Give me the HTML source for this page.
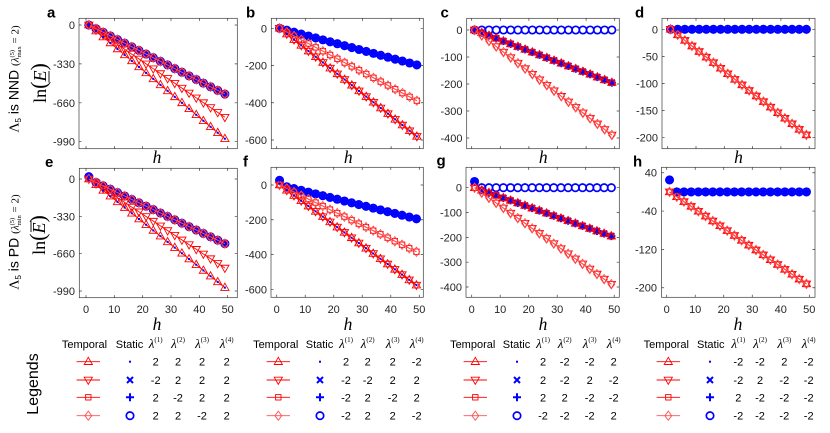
<!DOCTYPE html>
<html><head><meta charset="utf-8">
<style>
html,body{margin:0;padding:0;background:#fff;}
svg{display:block;}
text{font-family:"Liberation Sans",Arial,sans-serif;}
.t{font-size:11px;fill:#262626;}
.pl{font-size:15px;font-weight:bold;fill:#000;}
.serif{font-family:"Liberation Serif",serif;}
.hl{font-family:"Liberation Serif",serif;font-style:italic;font-size:17.5px;fill:#000;}
.lg{font-size:11px;fill:#000;}
</style></head><body>
<svg width="830" height="433" viewBox="0 0 830 433" xmlns="http://www.w3.org/2000/svg">
<rect x="0" y="0" width="830" height="433" fill="#fff"/>
<g id="plots"></g>

<!-- panel letters -->
<text class="pl" x="47" y="17.5">a</text>
<text class="pl" x="246" y="17.5">b</text>
<text class="pl" x="440.5" y="17.5">c</text>
<text class="pl" x="635" y="17.5">d</text>
<text class="pl" x="45" y="167">e</text>
<text class="pl" x="243" y="166.5">f</text>
<text class="pl" x="436.5" y="165.5">g</text>
<text class="pl" x="633" y="166.5">h</text>

<!-- y tick labels -->
<g class="t" text-anchor="end">
<text x="75" y="29">0</text><text x="75" y="67.9">-330</text><text x="75" y="106.8">-660</text><text x="75" y="145.7">-990</text>
<text x="267" y="32.3">0</text><text x="267" y="69.5">-200</text><text x="267" y="106.8">-400</text><text x="267" y="144">-600</text>
<text x="462.5" y="34">0</text><text x="462.5" y="61">-100</text><text x="462.5" y="88">-200</text><text x="462.5" y="115">-300</text><text x="462.5" y="142">-400</text>
<text x="658" y="33.3">0</text><text x="658" y="60.4">-50</text><text x="658" y="87.5">-100</text><text x="658" y="114.6">-150</text><text x="658" y="141.7">-200</text>
<text x="75" y="183">0</text><text x="75" y="220.3">-330</text><text x="75" y="257.7">-660</text><text x="75" y="295">-990</text>
<text x="267" y="189">0</text><text x="267" y="223.8">-200</text><text x="267" y="258.5">-400</text><text x="267" y="293.3">-600</text>
<text x="462" y="191.7">0</text><text x="462" y="216.5">-100</text><text x="462" y="241.3">-200</text><text x="462" y="266.2">-300</text><text x="462" y="291">-400</text>
<text x="657" y="176.7">40</text><text x="657" y="215">-40</text><text x="657" y="253.3">-120</text><text x="657" y="291.7">-200</text>
</g>

<!-- x tick labels row 2 -->
<g class="t" text-anchor="middle">
<text x="86" y="313">0</text><text x="114.3" y="313">10</text><text x="142.7" y="313">20</text><text x="171" y="313">30</text><text x="199.4" y="313">40</text><text x="227.7" y="313">50</text>
<text x="276.7" y="313">0</text><text x="305.2" y="313">10</text><text x="333.7" y="313">20</text><text x="362.3" y="313">30</text><text x="390.8" y="313">40</text><text x="419.3" y="313">50</text>
<text x="471.7" y="313">0</text><text x="500.2" y="313">10</text><text x="528.7" y="313">20</text><text x="557.2" y="313">30</text><text x="585.7" y="313">40</text><text x="614.2" y="313">50</text>
<text x="666.7" y="313">0</text><text x="695.2" y="313">10</text><text x="723.7" y="313">20</text><text x="752.3" y="313">30</text><text x="780.8" y="313">40</text><text x="809.3" y="313">50</text>
</g>

<!-- h axis labels -->
<g text-anchor="middle">
<text class="hl" x="157" y="163">h</text>
<text class="hl" x="348.2" y="163">h</text>
<text class="hl" x="543.2" y="163">h</text>
<text class="hl" x="738.5" y="163">h</text>
<text class="hl" x="157" y="330">h</text>
<text class="hl" x="348" y="330">h</text>
<text class="hl" x="543" y="330">h</text>
<text class="hl" x="738" y="330">h</text>
</g>

<!-- y axis labels row 1 -->
<text transform="translate(18.5,79) rotate(-90)" text-anchor="middle" font-size="14" fill="#000"><tspan class="serif">Λ</tspan><tspan font-size="8" dy="2.5">5</tspan><tspan dy="-2.5"> is NND </tspan><tspan class="serif" font-size="11">(</tspan><tspan class="serif" font-style="italic" font-size="11">λ</tspan><tspan class="serif" font-size="6.5" dy="-4.5">(5)</tspan><tspan class="serif" font-size="6.5" dx="-7.5" dy="7">max</tspan><tspan class="serif" font-size="11" dy="-2.5"> = 2)</tspan></text>
<g transform="translate(46,83) rotate(-90)">
<text x="0" y="0" text-anchor="middle" class="serif" font-size="18" fill="#000">ln<tspan font-size="22">(</tspan><tspan font-style="italic">E</tspan><tspan font-size="22">)</tspan></text>
<line x1="0.5" y1="3" x2="12" y2="3" stroke="#000" stroke-width="0.9"/>
</g>

<!-- y axis labels row 2 -->
<text transform="translate(18.5,242) rotate(-90)" text-anchor="middle" font-size="14" fill="#000"><tspan class="serif">Λ</tspan><tspan font-size="8" dy="2.5">5</tspan><tspan dy="-2.5"> is PD </tspan><tspan class="serif" font-size="11">(</tspan><tspan class="serif" font-style="italic" font-size="11">λ</tspan><tspan class="serif" font-size="6.5" dy="-4.5">(5)</tspan><tspan class="serif" font-size="6.5" dx="-7.5" dy="7">min</tspan><tspan class="serif" font-size="11" dy="-2.5"> = 2)</tspan></text>
<g transform="translate(45,235) rotate(-90)">
<text x="0" y="0" text-anchor="middle" class="serif" font-size="18" fill="#000">ln<tspan font-size="22">(</tspan><tspan font-style="italic">E</tspan><tspan font-size="22">)</tspan></text>
<line x1="3" y1="-14" x2="14" y2="-14" stroke="#000" stroke-width="0.9"/>
</g>

<!-- Legends label -->
<text transform="translate(38,384) rotate(-90)" text-anchor="middle" font-size="16" fill="#000">Legends</text>

<!-- legend headers -->
<g class="lg" text-anchor="middle">
<text x="84.5" y="348">Temporal</text><text x="129.5" y="348">Static</text>
<text x="275.7" y="348">Temporal</text><text x="319.5" y="348">Static</text>
<text x="472.7" y="348">Temporal</text><text x="516.5" y="348">Static</text>
<text x="666.3" y="348">Temporal</text><text x="710.8" y="348">Static</text>
</g>
<g text-anchor="middle" fill="#000">
<text x="155.7" y="348"><tspan class="serif" font-style="italic" font-size="13">λ</tspan><tspan class="serif" font-size="7" dy="-6">(1)</tspan></text>
<text x="178" y="348"><tspan class="serif" font-style="italic" font-size="13">λ</tspan><tspan class="serif" font-size="7" dy="-6">(2)</tspan></text>
<text x="202" y="348"><tspan class="serif" font-style="italic" font-size="13">λ</tspan><tspan class="serif" font-size="7" dy="-6">(3)</tspan></text>
<text x="226.7" y="348"><tspan class="serif" font-style="italic" font-size="13">λ</tspan><tspan class="serif" font-size="7" dy="-6">(4)</tspan></text>
<text x="346" y="348"><tspan class="serif" font-style="italic" font-size="13">λ</tspan><tspan class="serif" font-size="7" dy="-6">(1)</tspan></text>
<text x="367.7" y="348"><tspan class="serif" font-style="italic" font-size="13">λ</tspan><tspan class="serif" font-size="7" dy="-6">(2)</tspan></text>
<text x="392.7" y="348"><tspan class="serif" font-style="italic" font-size="13">λ</tspan><tspan class="serif" font-size="7" dy="-6">(3)</tspan></text>
<text x="416.7" y="348"><tspan class="serif" font-style="italic" font-size="13">λ</tspan><tspan class="serif" font-size="7" dy="-6">(4)</tspan></text>
<text x="543" y="348"><tspan class="serif" font-style="italic" font-size="13">λ</tspan><tspan class="serif" font-size="7" dy="-6">(1)</tspan></text>
<text x="564.7" y="348"><tspan class="serif" font-style="italic" font-size="13">λ</tspan><tspan class="serif" font-size="7" dy="-6">(2)</tspan></text>
<text x="589.7" y="348"><tspan class="serif" font-style="italic" font-size="13">λ</tspan><tspan class="serif" font-size="7" dy="-6">(3)</tspan></text>
<text x="613.7" y="348"><tspan class="serif" font-style="italic" font-size="13">λ</tspan><tspan class="serif" font-size="7" dy="-6">(4)</tspan></text>
<text x="738.3" y="348"><tspan class="serif" font-style="italic" font-size="13">λ</tspan><tspan class="serif" font-size="7" dy="-6">(1)</tspan></text>
<text x="760" y="348"><tspan class="serif" font-style="italic" font-size="13">λ</tspan><tspan class="serif" font-size="7" dy="-6">(2)</tspan></text>
<text x="784.3" y="348"><tspan class="serif" font-style="italic" font-size="13">λ</tspan><tspan class="serif" font-size="7" dy="-6">(3)</tspan></text>
<text x="808.7" y="348"><tspan class="serif" font-style="italic" font-size="13">λ</tspan><tspan class="serif" font-size="7" dy="-6">(4)</tspan></text>
</g>

<!-- legend values -->
<g class="lg" text-anchor="middle">
<text x="155.7" y="365.7">2</text><text x="178" y="365.7">2</text><text x="202" y="365.7">2</text><text x="226.7" y="365.7">2</text>
<text x="155.7" y="384">-2</text><text x="178" y="384">2</text><text x="202" y="384">2</text><text x="226.7" y="384">2</text>
<text x="155.7" y="401.3">2</text><text x="178" y="401.3">-2</text><text x="202" y="401.3">2</text><text x="226.7" y="401.3">2</text>
<text x="155.7" y="419.7">2</text><text x="178" y="419.7">2</text><text x="202" y="419.7">-2</text><text x="226.7" y="419.7">2</text>
<text x="346" y="365.7">2</text><text x="367.7" y="365.7">2</text><text x="392.7" y="365.7">2</text><text x="416.7" y="365.7">-2</text>
<text x="346" y="384">-2</text><text x="367.7" y="384">-2</text><text x="392.7" y="384">2</text><text x="416.7" y="384">2</text>
<text x="346" y="401.3">-2</text><text x="367.7" y="401.3">2</text><text x="392.7" y="401.3">-2</text><text x="416.7" y="401.3">2</text>
<text x="346" y="419.7">-2</text><text x="367.7" y="419.7">2</text><text x="392.7" y="419.7">2</text><text x="416.7" y="419.7">-2</text>
<text x="543" y="365.7">2</text><text x="564.7" y="365.7">-2</text><text x="589.7" y="365.7">-2</text><text x="613.7" y="365.7">2</text>
<text x="543" y="384">2</text><text x="564.7" y="384">-2</text><text x="589.7" y="384">2</text><text x="613.7" y="384">-2</text>
<text x="543" y="401.3">2</text><text x="564.7" y="401.3">2</text><text x="589.7" y="401.3">-2</text><text x="613.7" y="401.3">-2</text>
<text x="543" y="419.7">-2</text><text x="564.7" y="419.7">-2</text><text x="589.7" y="419.7">-2</text><text x="613.7" y="419.7">2</text>
<text x="738.3" y="365.7">-2</text><text x="760" y="365.7">-2</text><text x="784.3" y="365.7">2</text><text x="808.7" y="365.7">-2</text>
<text x="738.3" y="384">-2</text><text x="760" y="384">2</text><text x="784.3" y="384">-2</text><text x="808.7" y="384">-2</text>
<text x="738.3" y="401.3">2</text><text x="760" y="401.3">-2</text><text x="784.3" y="401.3">-2</text><text x="808.7" y="401.3">-2</text>
<text x="738.3" y="419.7">-2</text><text x="760" y="419.7">-2</text><text x="784.3" y="419.7">-2</text><text x="808.7" y="419.7">-2</text>
</g>
</svg>
<script>
(function(){
var NS='http://www.w3.org/2000/svg';
var G=document.getElementById('plots');
function el(t,a,p){var e=document.createElementNS(NS,t);for(var k in a)e.setAttribute(k,a[k]);(p||G).appendChild(e);return e;}
var RED='#ff0000',PINK='#ff5050',BLUE='#0000ff';
function mk(t,x,y,p,col){
  col=col||RED;
  if(t==='tu')el('polygon',{points:[x,y-4.4,x-4.1,y+2.8,x+4.1,y+2.8].join(' '),fill:'none',stroke:col,'stroke-width':0.9},p);
  else if(t==='td')el('polygon',{points:[x,y+4.4,x-4.1,y-2.8,x+4.1,y-2.8].join(' '),fill:'none',stroke:col,'stroke-width':0.9},p);
  else if(t==='sq')el('rect',{x:x-2.7,y:y-2.7,width:5.4,height:5.4,fill:'none',stroke:col,'stroke-width':0.9},p);
  else if(t==='di')el('polygon',{points:[x,y-4.6,x+3.4,y,x,y+4.6,x-3.4,y].join(' '),fill:'none',stroke:col,'stroke-width':0.9},p);
  else if(t==='dot')el('rect',{x:x-1,y:y-1,width:2,height:2,fill:BLUE},p);
  else if(t==='x')el('path',{d:'M'+(x-3)+','+(y-3)+'L'+(x+3)+','+(y+3)+'M'+(x-3)+','+(y+3)+'L'+(x+3)+','+(y-3),stroke:BLUE,'stroke-width':2,fill:'none'},p);
  else if(t==='p')el('path',{d:'M'+(x-4)+','+y+'L'+(x+4)+','+y+'M'+x+','+(y-4)+'L'+x+','+(y+4),stroke:BLUE,'stroke-width':2,fill:'none'},p);
  else if(t==='o')el('circle',{cx:x,cy:y,r:3.7,stroke:BLUE,'stroke-width':1.7,fill:'none'},p);
}
var SA={tu:-20.1,td:-16.3,sq:-12.2,di:-12.2,dot:-20.1,x:-12.2,p:-12.2,o:-12.2};
var SE={tu:-20,td:-16.4,sq:-11.9,di:-11.9,dot:-20,x:-11.9,p:-11.9,o:-11.9};
var SB={tu:-12.1,td:-12.1,sq:-8.1,di:-8.1,dot:-12.1,x:-4.1,p:-4.1,o:-4.1};
var SF={tu:-12,td:-12,sq:-8,di:-8,dot:-12,x:-4.05,p:-4.05,o:-4.05};
var SC={tu:-4.06,td:-8.1,sq:-4.06,di:-8.1,dot:-4.06,x:-4.06,p:-4.06,o:0};
var SD={tu:-4.06,td:-4.06,sq:-4.06,di:-4.06,dot:0,x:0,p:0,o:0};
var SH={tu:-4,td:-4,sq:-4,di:-4,dot:0,x:0,p:0,o:0};
var P=[
 {b:[79,18.3,237.3,148.7],x0:86,kx:2.834,y0:25,ky:0.11788,yt:[0,-330,-660,-990],s:SA,f:null},
 {b:[271.3,18.3,423.3,148.7],x0:276.7,kx:2.86,y0:28.3,ky:0.18617,yt:[0,-200,-400,-600],s:SB,f:null},
 {b:[466.7,18.3,619.3,148.7],x0:471.7,kx:2.86,y0:30,ky:0.27,yt:[0,-100,-200,-300,-400],s:SC,f:null},
 {b:[662,18.3,815,148.7],x0:667.7,kx:2.83,y0:29.3,ky:0.542,yt:[0,-50,-100,-150,-200],s:SD,f:null},
 {b:[79.3,168.3,237.3,297.7],x0:86,kx:2.834,y0:179,ky:0.11313,yt:[0,-330,-660,-990],s:SE,f:20},
 {b:[271,167.3,423.3,297.3],x0:276.7,kx:2.852,y0:185,ky:0.17383,yt:[0,-200,-400,-600],s:SF,f:27},
 {b:[466,167.3,619.3,297.3],x0:471.7,kx:2.85,y0:187.7,ky:0.24825,yt:[0,-100,-200,-300,-400],s:SC,f:25},
 {b:[661.5,167.3,815,297.3],x0:666.7,kx:2.852,y0:191.9,ky:0.4792,yt:[40,-40,-120,-200],s:SH,f:25}
];
var H=[];for(var k=0;k<20;k++)H.push(1+k*48/19);
P.forEach(function(pp){
  var bx0=pp.b[0],by0=pp.b[1],bx1=pp.b[2],by1=pp.b[3];
  function X(h){return pp.x0+h*pp.kx;}
  function Y(v){return pp.y0-v*pp.ky;}
  var g=el('g',{});
  el('rect',{x:bx0,y:by0,width:bx1-bx0,height:by1-by0,fill:'#fff',stroke:'#3a3a3a','stroke-width':0.7},g);
  var d='';
  for(var t=0;t<=50;t+=10){var x=X(t);d+='M'+x+','+by1+'v-2.6M'+x+','+by0+'v2.6';}
  pp.yt.forEach(function(v){var y=Y(v);d+='M'+bx0+','+y+'h2.6M'+bx1+','+y+'h-2.6';});
  el('path',{d:d,stroke:'#3a3a3a','stroke-width':0.7,fill:'none'},g);
  function val(t,h,i){
    if(i===0&&pp.f!==null&&(t==='dot'||t==='x'||t==='p'||t==='o'))return pp.f;
    return pp.s[t]*(h-1);
  }
  ['o','x','p'].forEach(function(t){H.forEach(function(h,i){mk(t,X(h),Y(val(t,h,i)),g);});});
  [['tu',RED],['td',RED],['sq',RED],['di',PINK]].forEach(function(tc){
    var t=tc[0],c=tc[1];
    var pts=H.map(function(h,i){return [X(h),Y(val(t,h,i))];});
    el('polyline',{points:pts.map(function(q){return q.join(',');}).join(' '),fill:'none',stroke:c,'stroke-width':0.9},g);
    pts.forEach(function(q){mk(t,q[0],q[1],g,c);});
  });
  H.forEach(function(h,i){mk('dot',X(h),Y(val('dot',h,i)),g);});
});
var LG=[[88.3,130],[278.3,320],[475.3,517],[668.3,710]];
var LR=[361.7,380,397.3,415.7];
var TY=[['tu','dot'],['td','x'],['sq','p'],['di','o']];
LG.forEach(function(l){
  LR.forEach(function(y,r){
    var c=r===3?PINK:RED;
    el('line',{x1:l[0]-11.7,y1:y,x2:l[0]+11.7,y2:y,stroke:c,'stroke-width':0.9});
    mk(TY[r][0],l[0],y,G,c);
    mk(TY[r][1],l[1],y,G);
  });
});
})();
</script>
</body></html>
